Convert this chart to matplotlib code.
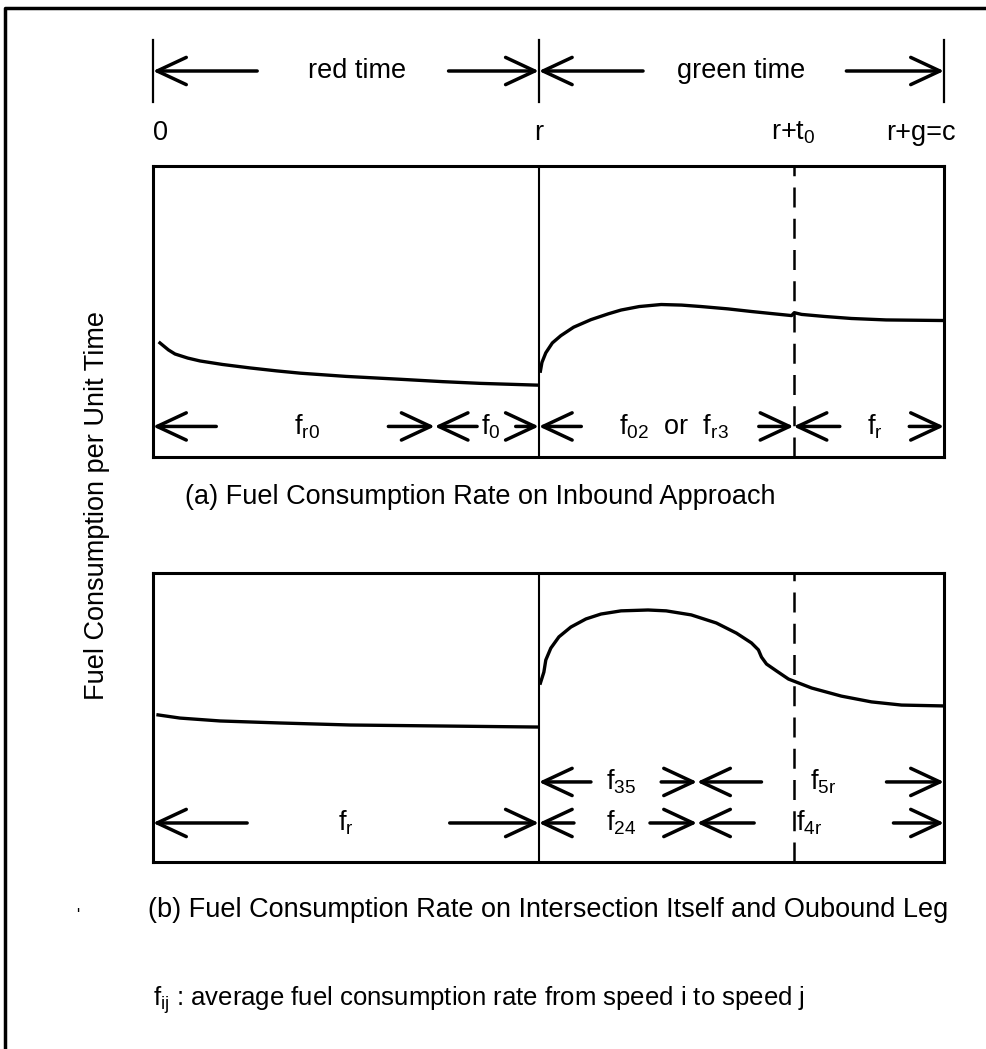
import matplotlib.pyplot as plt
from matplotlib.patches import FancyArrowPatch
from matplotlib.transforms import blended_transform_factory

plt.rcParams['font.family'] = ['Liberation Sans', 'DejaVu Sans']
plt.rcParams['mathtext.fontset'] = 'custom'
plt.rcParams['mathtext.rm'] = 'Liberation Sans'
plt.rcParams['mathtext.it'] = 'Liberation Sans'

# === DADOS ===
# tempo em unidades de "red time" (r = 1)
r = 1.0
t0 = 0.66
c = 2.05

tick_times = [0, r, c]
tick_labels = ['0', 'r', r'r+t$_\mathrm{0}$', 'r+g=c']
label_times = [0.02, r, r + t0, 1.99]

# (a) inbound approach
t_red_a = [0.018, 0.04, 0.057, 0.09, 0.122, 0.18, 0.252, 0.32, 0.382, 0.5, 0.642, 0.75, 0.849, 0.995]
fuel_red_a = [0.392, 0.368, 0.354, 0.340, 0.330, 0.318, 0.306, 0.296, 0.288, 0.277, 0.267, 0.259, 0.253, 0.247]
t_green_a = [1.004, 1.008, 1.018, 1.035, 1.057, 1.09, 1.135, 1.18, 1.213, 1.26, 1.317, 1.37, 1.421, 1.49,
             1.551, 1.61, 1.655, 1.662, 1.668, 1.681, 1.74, 1.81, 1.9, 2.05]
fuel_green_a = [0.295, 0.325, 0.358, 0.392, 0.417, 0.446, 0.472, 0.492, 0.505, 0.517, 0.524, 0.522, 0.517, 0.509,
                0.500, 0.492, 0.486, 0.496, 0.494, 0.490, 0.483, 0.476, 0.471, 0.469]

# (b) intersection itself and outbound leg
t_red_b = [0.013, 0.07, 0.174, 0.33, 0.512, 0.719, 0.997]
fuel_red_b = [0.509, 0.498, 0.488, 0.481, 0.474, 0.471, 0.467]
t_green_b = [1.004, 1.013, 1.018, 1.031, 1.052, 1.083, 1.122, 1.161, 1.213, 1.283, 1.330, 1.395, 1.460, 1.512,
             1.551, 1.569, 1.577, 1.590, 1.616, 1.647, 1.707, 1.784, 1.862, 1.940, 2.05]
fuel_green_b = [0.619, 0.657, 0.699, 0.740, 0.779, 0.813, 0.841, 0.858, 0.869, 0.872, 0.869, 0.855, 0.827, 0.792,
                0.758, 0.734, 0.709, 0.685, 0.661, 0.633, 0.602, 0.574, 0.554, 0.543, 0.540]

W, H = 986, 1049


def fy(py):
    return 1 - py / H


def arrow(ax, tail, head, y, trans):
    ax.add_patch(FancyArrowPatch((tail, y), (head, y), transform=trans,
                                 arrowstyle='->,head_length=0.75,head_width=0.35',
                                 mutation_scale=28, lw=2.5, color='black',
                                 shrinkA=0, shrinkB=0, clip_on=False))


def span(ax, x0, x1, y, label, lx, ta, tb, trans=None, size=19.5):
    if trans is None:
        trans = ax.transData
    arrow(ax, ta, x0, y, trans)
    arrow(ax, tb, x1, y, trans)
    ax.text(lx, y, label, ha='center', va='center', transform=trans, fontsize=size)


fig = plt.figure(figsize=(W / 100, H / 100), dpi=100)

# fundo / moldura
bg = fig.add_axes([0, 0, 1, 1], zorder=-1)
bg.set_xlim(0, W)
bg.set_ylim(H, 0)
bg.axis('off')
bg.plot([5, 5, W], [H, 8, 8], color='black', lw=2.5)

ax_a = fig.add_axes([153 / W, fy(457), (944 - 153) / W, 291 / H])
ax_b = fig.add_axes([153 / W, fy(862), (944 - 153) / W, 289 / H])

for ax in (ax_a, ax_b):
    ax.set_xlim(0, c)
    ax.set_ylim(0, 1)
    ax.set_xticks([])
    ax.set_yticks([])
    for s in ax.spines.values():
        s.set_linewidth(2.2)
    ax.axvline(r, color='black', lw=1.5)
    ax.axvline(r + t0, color='black', lw=1.8, ls=(0, (8, 4.5)))

ax_a.plot(t_red_a, fuel_red_a, color='black', lw=2.4)
ax_a.plot(t_green_a, fuel_green_a, color='black', lw=2.4)
ax_b.plot(t_red_b, fuel_red_b, color='black', lw=2.4)
ax_b.plot(t_green_b, fuel_green_b, color='black', lw=2.4)

# régua superior
tr = blended_transform_factory(ax_a.transData, fig.transFigure)
for t in tick_times:
    ax_a.plot([t, t], [fy(40), fy(102)], color='black', lw=1.6, transform=tr, clip_on=False)
span(ax_a, 0, r, fy(71), 'red time', 0.53, 0.27, 0.766, trans=tr)
span(ax_a, r, c, fy(71), 'green time', 1.525, 1.27, 1.797, trans=tr)
for t, lab in zip(label_times, tick_labels):
    ax_a.text(t, fy(133), lab, ha='center', va='center', fontsize=19.5, transform=tr)

# (a) setas
ya = 0.105
span(ax_a, 0, 0.73, ya, r'f$_\mathrm{r0}$', 0.40, 0.164, 0.61)
span(ax_a, 0.73, r, ya, r'f$_\mathrm{0}$', 0.875, 0.84, 0.94)
span(ax_a, r, r + t0, ya, r'f$_\mathrm{02}$  or  f$_\mathrm{r3}$', 1.35, 1.11, 1.57)
span(ax_a, r + t0, c, ya, r'f$_\mathrm{r}$', 1.87, 1.78, 1.96)

# (b) setas
span(ax_b, r, 1.41, 0.277, r'f$_\mathrm{35}$', 1.213, 1.135, 1.317)
span(ax_b, 1.41, c, 0.277, r'f$_\mathrm{5r}$', 1.738, 1.577, 1.901)
span(ax_b, 0, r, 0.135, r'f$_\mathrm{r}$', 0.499, 0.244, 0.769)
span(ax_b, r, 1.41, 0.135, r'f$_\mathrm{24}$', 1.213, 1.091, 1.288)
span(ax_b, 1.41, c, 0.135, r'f$_\mathrm{4r}$', 1.70, 1.558, 1.919)

# textos
bg.text(480, 497, '(a) Fuel Consumption Rate on Inbound Approach', ha='center', va='center', fontsize=19.5)
bg.text(548, 910, '(b) Fuel Consumption Rate on Intersection Itself and Oubound Leg',
        ha='center', va='center', fontsize=19.5)
bg.text(153, 1000, r'f$_\mathrm{ij}$ : average fuel consumption rate from speed i to speed j',
        ha='left', va='center', fontsize=18.5)
bg.text(97, 505, 'Fuel Consumption per Unit Time', rotation=90, ha='center', va='center', fontsize=19.5)
bg.text(78, 915, "'", ha='center', va='center', fontsize=12)

fig.savefig('out.png', dpi=100)
